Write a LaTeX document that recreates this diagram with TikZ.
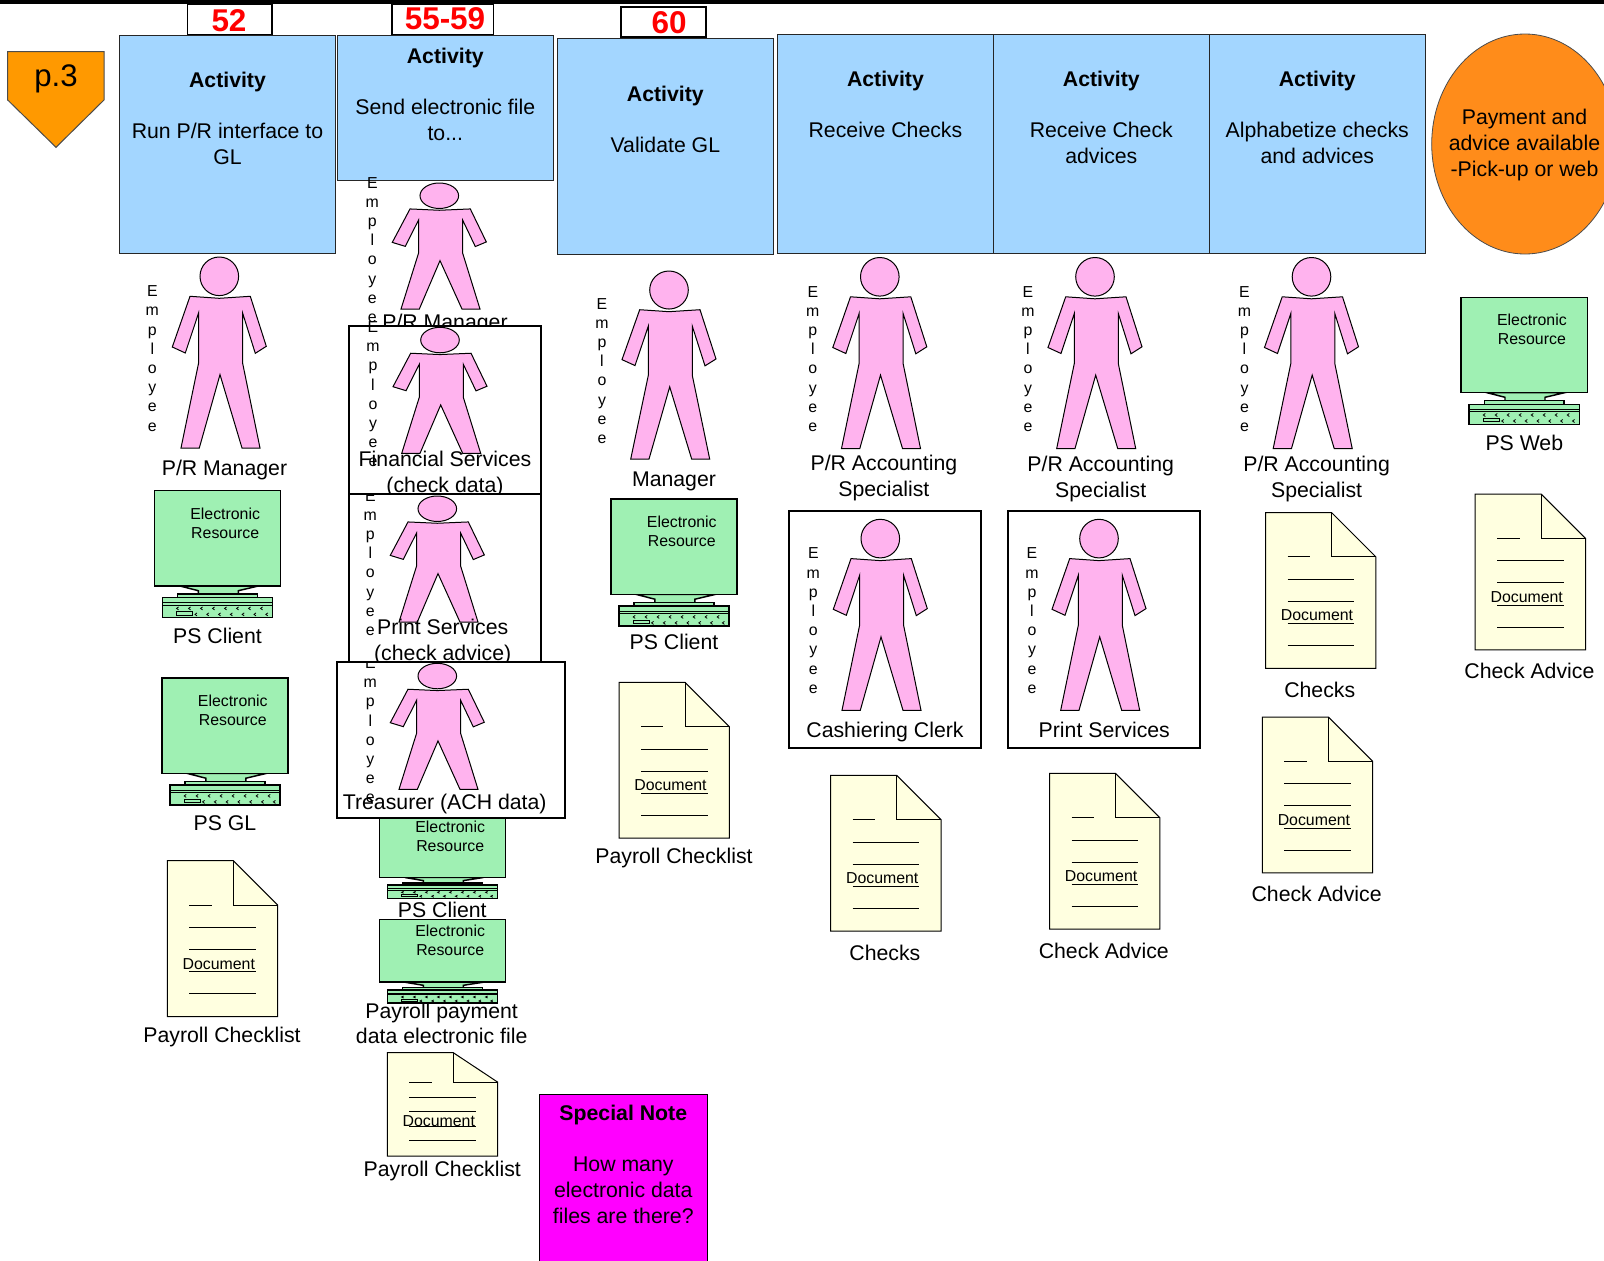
\documentclass[tikz,border=0pt]{standalone}
\usepackage{fontspec}
\setmainfont{Liberation Sans}
\usetikzlibrary{shapes.geometric}
\definecolor{ActivityBlue}{RGB}{163, 214, 255}
\definecolor{ScreenGreen}{RGB}{159, 240, 179}
\definecolor{PersonPink}{RGB}{255, 179, 238}
\definecolor{PaperYellow}{RGB}{255, 255, 224}
\definecolor{PageOrange}{RGB}{255, 153, 0}
\definecolor{EndOrange}{RGB}{255, 140, 26}
\definecolor{NoteMagenta}{RGB}{255, 0, 255}
\tikzset{
	bigtext/.style={font=\fontsize{15.95}{19.2}\selectfont, align=center, inner sep=0pt},
	smalltext/.style={font=\fontsize{11.9}{14.4}\selectfont, align=center, inner sep=0pt},
	badgetext/.style={font=\fontsize{23.6}{26}\selectfont\bfseries, text=red, inner sep=0pt},
	actbox/.style={draw=black!85, fill=ActivityBlue, line width=.6pt},
	badgebox/.style={draw=black, fill=white, line width=1.2pt},
	whitebox/.style={draw=black, fill=white, line width=1.5pt},
	person/.pic={
		\draw[fill=PersonPink, line width=.75pt] (0, 19.3) circle (19.3);
		\draw[fill=PersonPink, line width=.75pt] (-29.3, 39.3) -- (0, 41.3) -- (31, 39.3) -- (47, 89.3) -- (36, 96.3)
			-- (23.3, 56) -- (23.3, 106) -- (40.7, 191) -- (22.7, 191) -- (0.7, 117.6) -- (-20, 191) -- (-38.3, 191)
			-- (-20.7, 106) -- (-20.7, 56) -- (-34, 96) -- (-47, 90) -- cycle;
		\node[smalltext] (-word) at (-67, 101.5) {E\\m\\p\\l\\o\\y\\e\\e};
	},
	screen/.pic={
		\draw[fill=ScreenGreen, line width=1.1pt] (25.7, 95.3) -- (44, 100) -- (44, 104) -- (84, 104) -- (84, 100) -- (104, 95.3) -- cycle;
		\draw[fill=ScreenGreen, line width=1.1pt] (23.3, 103.3) rectangle (103, 107);
		\draw[fill=ScreenGreen, line width=1.1pt] (8, 107) rectangle (118.3, 127);
		\draw[line width=.6pt] (8, 112) -- (118.3, 112) (8, 114.5) -- (118.3, 114.5);
		\draw[line width=.5pt] (22.3, 121) rectangle (38.3, 124.3);
		\foreach \k in {0, 1, ..., 7}{
			\draw[line width=.6pt] (24.3+12*\k, 116.2) -- (22.3+12*\k, 117.7) -- (24.3+12*\k, 119.2);
		}
		\foreach \k in {0, 1, ..., 6}{
			\draw[line width=.6pt] (42.7+11.8*\k, 122.2) -- (40.7+11.8*\k, 123.7) -- (42.7+11.8*\k, 125.2);
		}
		\draw[fill=ScreenGreen, line width=1.1pt] (0, 0) rectangle (126.3, 95.3);
		\node[smalltext] (-text) at (70.9, 32.3) {Electronic\\Resource};
	},
	paper/.pic={
		\draw[fill=PaperYellow, line width=.75pt] (0, 0) -- (66, 0) -- (110.3, 44.3) -- (110.3, 155.8) -- (0, 155.8) -- cycle;
		\draw[line width=.75pt] (66, 0) -- (66, 44.3) -- (110.3, 44.3);
		\draw[line width=.6pt] (22, 44.3) -- (44.3, 44.3);
		\foreach \y in {66.7, 88.7, 111, 133}{
			\draw[line width=.6pt] (22, \y) -- (88.7, \y);
		}
		\node[smalltext] (-text) at (51.5, 103) {Document};
	},
}

\begin{document}
\begin{tikzpicture}[x=.75pt, y=-.75pt]
	\useasboundingbox (0, 0) rectangle (1604, 1261);

	\draw[fill=PageOrange, draw=black!70, line width=.75pt] (7.7, 51.7) -- (104, 51.7) -- (104, 100) -- (56, 147.3) -- (7.7, 100) -- cycle;
	\node[inner sep=0pt, font=\fontsize{23.4}{26}\selectfont] (page) at (56, 79) {p.3};

	% number tabs over the activities
	\foreach \xa/\ya/\xb/\yb/\tx/\ty/\num in {187.3/4/271.7/35/229/21/52, 391.7/4/493.3/35/445/19/55-59, 621/7/706/37/669/22.5/60}{
		\draw[badgebox] (\xa, \ya) rectangle (\xb, \yb);
		\node[badgetext] (tab\num) at (\tx, \ty) {\num};
	}

	\foreach \n/\xa/\ya/\xb/\yb/\ty/\txt in {
		1/119.3/35.5/335.7/253.5/118/{Run P/R interface to\\GL},
		2/337.3/35.5/553.3/180/94/{Send electronic file\\to...},
		3/557.3/38.3/773.4/254.2/119.6/{Validate GL},
		4/777.5/34/993.4/253/104.4/{Receive Checks},
		5/993.4/34/1209.2/253/117.2/{Receive Check\\advices},
		6/1209.2/34/1425.3/253/117.2/{Alphabetize checks\\and advices}}{
		\draw[actbox] (\xa, \ya) rectangle (\xb, \yb);
		\node[bigtext] (act\n) at ({(\xa+\xb)/2}, \ty) {\textbf{Activity}\\~\\\txt};
	}

	\draw[fill=EndOrange, draw=black!70, line width=.6pt] (1525, 144) ellipse (93.3 and 110);
	\node[bigtext] (end) at (1524.5, 145) {Payment and\\advice available\\-Pick-up or web};

	% people outside the white boxes
	\foreach \n/\x/\y in {a/219.3/257, d/879.8/257.5, e/1095/257.5, f/1311.5/257.5}{
		\pic (man\n) at (\x, \y) {person};
	}
	\pic[yscale=.985] (manc) at (669, 271) {person};
	\foreach \n/\x/\y in {a/154.3/490.7, b/161.9/678.2, c/610.9/499.2, d/1461/297.3}{
		\pic (pc\n) at (\x, \y) {screen};
	}
	\foreach \n/\x/\y in {a/167.3/860.7, b/619/682.4, c/830.7/775.4, d/1049.6/773.4, e/1265.5/512.5, f/1262.4/717.1, g/1475.2/494.1}{
		\pic (doc\n) at (\x, \y) {paper};
	}

	% second column, drawn from the back to the front
	\pic[yscale=.66] (pcx) at (379.3, 814.6) {screen};
	\pic[yscale=.66] (pcy) at (379.3, 919.3) {screen};
	\pic[yscale=.663] (docx) at (387.3, 1052.7) {paper};
	\pic[yscale=.66] (manx) at (439.3, 183) {person};
	\node[bigtext] (lblx) at (445, 323.7) {P/R Manager};

	\draw[whitebox] (349, 325.7) rectangle (541.3, 494);
	\pic[yscale=.66] (many) at (440, 327.3) {person};
	\node[bigtext] (lbly) at (445, 474) {Financial Services\\(check data)};

	\draw[whitebox] (349, 494) rectangle (541.3, 670);
	\begin{scope}
		\clip (345, 494) rectangle (546, 670);
		\pic[yscale=.66] (manz) at (437.3, 496) {person};
	\end{scope}
	\node[bigtext] (lblz) at (442.7, 642) {Print Services\\(check advice)};

	\draw[whitebox] (337, 661.7) rectangle (565.3, 818);
	\begin{scope}
		\clip (333, 661.7) rectangle (570, 818);
		\pic[yscale=.66] (manw) at (437.3, 663.3) {person};
	\end{scope}
	\node[bigtext] (lblw) at (444.7, 803.7) {Treasurer (ACH data)};

	\draw[whitebox] (789, 510.7) rectangle (981.3, 748.3);
	\draw[whitebox] (1008.3, 510.7) rectangle (1200.3, 748.3);
	\pic (mang) at (880.3, 519.3) {person};
	\pic (manh) at (1099, 519.3) {person};

	\foreach \n/\x/\y/\txt in {
		a/224.5/470/{P/R Manager}, b/217.5/635.7/{PS Client}, c/225/823.5/{PS GL}, d/222/1037.3/{Payroll Checklist},
		e/442.3/910/{PS Client}, f/441.7/1023.5/{Payroll payment\\data electronic file}, g/442.3/1170.8/{Payroll Checklist},
		h/674/481.8/{Manager}, i/674/641.4/{PS Client}, j/674/858.3/{Payroll Checklist},
		k/883.9/478.2/{P/R Accounting\\Specialist}, l/1100.7/478.7/{P/R Accounting\\Specialist}, m/1316.6/478.7/{P/R Accounting\\Specialist},
		n/885/731.5/{Cashiering Clerk}, o/1104.3/730/{Print Services}, p/884.9/952.4/{Checks}, q/1103.8/950.4/{Check Advice},
		r/1319.7/689.5/{Checks}, s/1316.6/894/{Check Advice}, t/1524.3/442.7/{PS Web}, u/1529.4/671/{Check Advice}}{
		\node[bigtext] (lbl\n) at (\x, \y) {\txt};
	}

	\draw[fill=NoteMagenta, line width=.7pt] (539.3, 1094) rectangle (707.3, 1265);
	\node[bigtext] (note) at (623.3, 1164.3) {\textbf{Special Note}\\~\\How many\\electronic data\\files are there?};

	\fill[black] (0, 0) rectangle (1604, 4);
\end{tikzpicture}
\end{document}
